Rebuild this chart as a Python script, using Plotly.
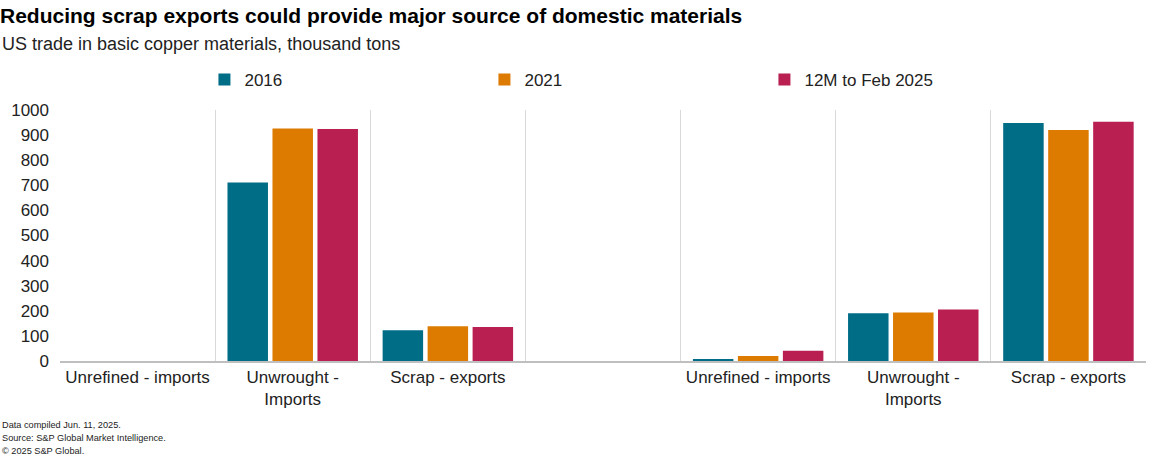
import plotly.graph_objects as go

# categories (gap column in the middle, duplicates kept apart with ids)
cat_ids = ["c1", "c2", "c3", "gap", "c4", "c5", "c6"]
cat_labels = ["Unrefined - imports", "Unwrought -<br>Imports", "Scrap - exports", "",
              "Unrefined - imports", "Unwrought -<br>Imports", "Scrap - exports"]

series_names = ["2016", "2021", "12M to Feb 2025"]
vals_2016 = [0, 711, 123, None, 5, 190, 948]
vals_2021 = [0, 926, 138, None, 20, 193, 920]
vals_2025 = [0, 924, 135, None, 41, 205, 953]
colors = ["#006d87", "#dd7a00", "#b91f51"]

fig = go.Figure()
for name, vals, col in zip(series_names, [vals_2016, vals_2021, vals_2025], colors):
    fig.add_trace(go.Bar(x=cat_ids, y=vals, name=name, marker_color=col,
                         marker_line_width=0))

fig.update_layout(
    width=1161, height=456,
    margin=dict(l=60, r=15, t=110, b=95),
    paper_bgcolor="white", plot_bgcolor="white",
    font=dict(family="Liberation Sans, Arial, sans-serif", color="#222222", size=17),
    barmode="group", bargap=0.13, bargroupgap=0.1,
    title=dict(text="<b>Reducing scrap exports could provide major source of domestic materials</b>",
               xref="container", x=0.0, xanchor="left",
               yref="container", y=1 - 16 / 456, yanchor="middle",
               font=dict(size=21, color="#000000")),
    legend=dict(orientation="h", x=0.133, xanchor="left", y=1.12, yanchor="middle",
                entrywidth=235, itemwidth=30, font=dict(size=17),
                traceorder="normal"),
    showlegend=True,
)

fig.update_xaxes(
    type="category", categoryorder="array", categoryarray=cat_ids,
    tickmode="array", tickvals=cat_ids, ticktext=cat_labels,
    tickson="boundaries", ticks="", showgrid=True, gridcolor="#d9d9d9", gridwidth=1,
    showline=True, linecolor="#bfbfbf", linewidth=1.5,
    range=[-0.5, 6.5], tickangle=0,
)
fig.update_yaxes(
    range=[0, 1000], dtick=100, showgrid=False, zeroline=False,
    showline=False, ticks="", ticklabelstandoff=10,
)

fig.add_annotation(text="US trade in basic copper materials, thousand tons",
                   xref="paper", x=-60 / 1086, xanchor="left",
                   yref="paper", y=(361 - 44) / 251, yanchor="middle",
                   showarrow=False, font=dict(size=18, color="#222222"))

footer = ["Data compiled Jun. 11, 2025.",
          "Source: S&P Global Market Intelligence.",
          "© 2025 S&P Global."]
for i, line in enumerate(footer):
    fig.add_annotation(text=line, xref="paper", x=-60 / 1086, xanchor="left",
                       yref="paper", y=(361 - (425 + i * 13)) / 251, yanchor="middle",
                       showarrow=False, font=dict(size=9.2, color="#222222"))

fig.write_html("out.html", config={"displayModeBar": False},
               post_script="document.body.style.margin='0';")
